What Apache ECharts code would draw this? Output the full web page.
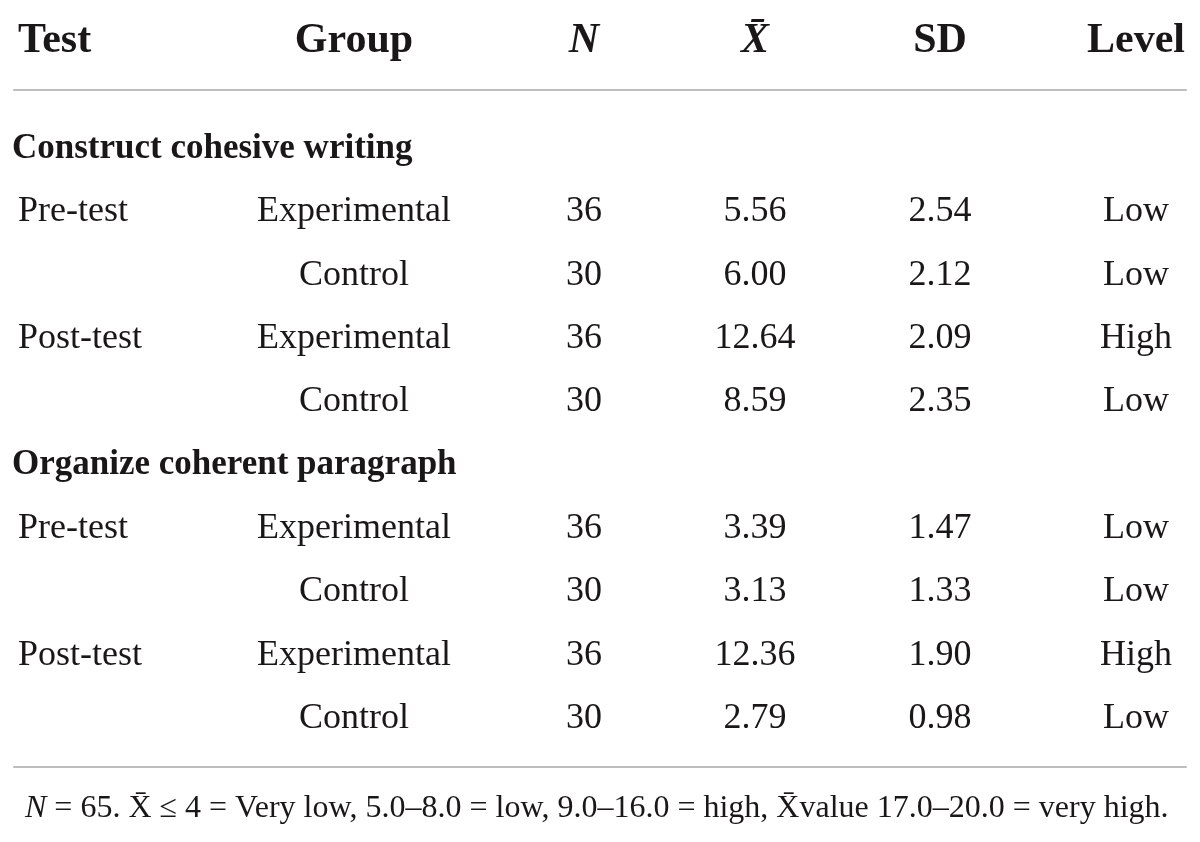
<!DOCTYPE html>
<html lang="en">
<head>
    <meta charset="UTF-8">
    <title>Cohesive writing and coherent paragraph scores</title>
    <script src="https://cdn.jsdelivr.net/npm/echarts@6.0.0/dist/echarts.min.js"></script>
    <style>
        * { margin: 0; padding: 0; box-sizing: border-box; }
        body { background: #fff; }
        #chart { width: 1200px; height: 842px; }
    </style>
</head>
<body>
    <div id="chart"></div>

    <script>
        // table content
        const columns = ['Test', 'Group', 'N', 'X\u0304', 'SD', 'Level'];
        const sections = ['Construct cohesive writing', 'Organize coherent paragraph'];
        const tests = ['Pre-test', '', 'Post-test', ''];
        const groups = ['Experimental', 'Control', 'Experimental', 'Control'];
        const nValues = [[36, 30, 36, 30], [36, 30, 36, 30]];
        const means = [[5.56, 6.00, 12.64, 8.59], [3.39, 3.13, 12.36, 2.79]];
        const sds = [[2.54, 2.12, 2.09, 2.35], [1.47, 1.33, 1.90, 0.98]];
        const levels = [['Low', 'Low', 'High', 'Low'], ['Low', 'Low', 'High', 'Low']];
        const footnote = '{i|N} = 65. X\u0304 \u2264 4 = Very low, 5.0\u20138.0 = low, 9.0\u201316.0 = high, X\u0304value 17.0\u201320.0 = very high.';

        // layout (pixels across the page)
        const colX = [18, 354, 584, 755, 940, 1136];
        const sectionX = 14;
        const colAlign = ['left', 'center', 'center', 'center', 'center', 'center'];
        const FONT = '"Liberation Serif", "DejaVu Serif", serif';
        const INK = '#1a1718';
        const RULE = '#bdbdbd';

        // build row list: section header + 4 rows, twice
        const rowKeys = [];
        const cells = [[], [], [], [], [], []];
        sections.forEach(function (sec, s) {
            const key = 'sec' + s;
            rowKeys.push(key);
            cells[0].push({ value: [sectionX, key], label: { formatter: sec, fontWeight: 'bold', fontSize: 35, offset: [-2, 0] } });
            groups.forEach(function (g, r) {
                const k = 's' + s + 'r' + r;
                rowKeys.push(k);
                const texts = [tests[r], g, String(nValues[s][r]), means[s][r].toFixed(2), sds[s][r].toFixed(2), levels[s][r]];
                texts.forEach(function (t, c) {
                    if (t !== '') cells[c].push({ value: [colX[c], k], label: { formatter: t } });
                });
            });
        });

        const headerCells = columns.map(function (name, c) {
            const lab = { formatter: name };
            if (c === 2 || c === 3) lab.fontStyle = 'italic';
            return { value: [colX[c], 'head'], label: lab };
        });

        function textSeries(data, gridIdx, align, size, weight) {
            return {
                type: 'scatter',
                xAxisIndex: gridIdx,
                yAxisIndex: gridIdx,
                symbolSize: 1,
                itemStyle: { color: 'rgba(255,255,255,0)', opacity: 1 },
                silent: true,
                label: {
                    show: true,
                    position: 'inside',
                    align: align,
                    verticalAlign: 'middle',
                    color: INK,
                    opacity: 1,
                    textBorderWidth: 0,
                    fontFamily: FONT,
                    fontSize: size,
                    fontWeight: weight
                },
                data: data
            };
        }

        const series = [];
        columns.forEach(function (name, c) {
            series.push(textSeries([headerCells[c]], 0, colAlign[c], 42, 'bold'));
            series.push(textSeries(cells[c], 1, colAlign[c], 36, 'normal'));
        });
        // bottom rule needs a series bound to its axis
        series.push({ type: 'scatter', xAxisIndex: 2, yAxisIndex: 1, data: [], silent: true });

        const chart = echarts.init(document.getElementById('chart'));
        chart.setOption({
            backgroundColor: '#ffffff',
            animation: false,
            title: {
                text: footnote,
                left: 20,
                top: 788,
                textStyle: {
                    fontFamily: FONT,
                    fontSize: 32,
                    fontWeight: 'normal',
                    color: INK,
                    rich: {
                        i: { fontFamily: FONT, fontSize: 32, fontStyle: 'italic', color: INK }
                    }
                }
            },
            grid: [
                { left: 14, right: 14, top: 3, height: 76 },
                { left: 14, right: 14, top: 117, bottom: 92 }
            ],
            xAxis: [
                { gridIndex: 0, type: 'value', min: 14, max: 1186, show: false },
                {
                    gridIndex: 1, type: 'value', min: 14, max: 1186, position: 'top', offset: 27,
                    axisLine: { show: true, lineStyle: { color: RULE, width: 2 } },
                    axisTick: { show: false }, axisLabel: { show: false }, splitLine: { show: false }
                },
                {
                    gridIndex: 1, type: 'value', min: 14, max: 1186, position: 'bottom', offset: 17,
                    axisLine: { show: true, lineStyle: { color: RULE, width: 2 } },
                    axisTick: { show: false }, axisLabel: { show: false }, splitLine: { show: false }
                }
            ],
            yAxis: [
                { gridIndex: 0, type: 'category', data: ['head'], show: false },
                { gridIndex: 1, type: 'category', data: rowKeys, inverse: true, show: false }
            ],
            series: series
        });
    </script>
</body>
</html>
